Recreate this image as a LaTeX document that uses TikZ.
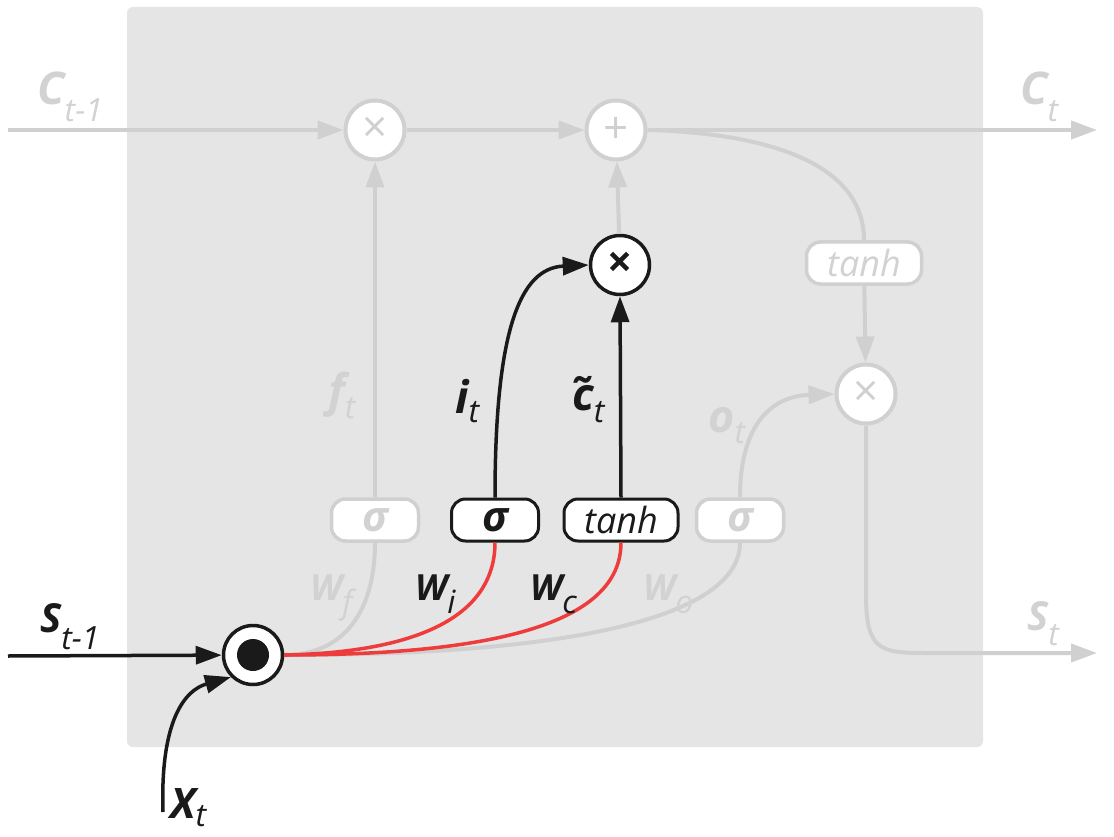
\documentclass[tikz,border=0pt]{standalone}
\usepackage{fontspec}
\setmainfont{Open Sans}
\usetikzlibrary{arrows.meta}
\definecolor{bgc}{HTML}{E5E5E5}
\definecolor{lg}{HTML}{D0D0D0}
\definecolor{lt}{HTML}{D2D2D2}
\definecolor{bk}{HTML}{1A1A1A}
\definecolor{rd}{HTML}{EE3B3B}
\newcommand\glab[4]{{\fontsize{#1}{#1}\selectfont\bfseries\itshape #2}\raisebox{-#3pt}{\fontsize{32}{32}\selectfont\itshape #4}}
\begin{document}
\begin{tikzpicture}[x=1pt,y=-1pt,
  gl/.style={draw=lg, line width=4pt},
  bl/.style={draw=bk, line width=3.5pt},
  rl/.style={draw=rd, line width=3.5pt},
  ga/.style={-{Triangle[length=26pt,width=18pt]}},
  gcirc/.style={circle, minimum size=59pt, inner sep=0pt, fill=white, draw=lg, line width=4pt, text=lg, font=\fontsize{44}{44}\selectfont},
  bcirc/.style={circle, minimum size=59pt, inner sep=0pt, fill=white, draw=bk, line width=3.5pt, text=bk, font=\fontsize{44}{44}\selectfont},
  gbox/.style={rectangle, rounded corners=14pt, minimum width=87pt, minimum height=42pt, inner sep=0pt, fill=white, draw=lg, line width=3.5pt, text=lt, font=\fontsize{36}{36}\selectfont\itshape},
  bbox/.style={rectangle, rounded corners=14pt, minimum width=87pt, minimum height=42pt, inner sep=0pt, fill=white, draw=bk, line width=3pt, text=bk, font=\fontsize{36}{36}\selectfont\itshape},
  sig/.style={font=\fontsize{42}{42}\selectfont\bfseries\itshape},
  glab/.style={anchor=base west, inner sep=0pt, text=lt},
  blab/.style={anchor=base west, inner sep=0pt, text=bk}
]
\useasboundingbox (0,0) rectangle (1114,837);
\fill[bgc, rounded corners=6pt] (127,7) rectangle (983,747);

% nodes
\node[gcirc] (mulf) at (375,130) {×};
\node[gcirc] (add) at (616,130) {+};
\node[bcirc] (muli) at (620,265) {\bfseries ×};
\node[gbox, minimum width=115pt] (tanhc) at (864,263) {tanh};
\node[gcirc] (mulo) at (866,394) {×};
\node[gbox, sig] (sf) at (375,520) {σ};
\node[bbox, sig] (si) at (495,520) {σ};
\node[bbox, minimum width=114pt] (tc) at (621,520) {tanh};
\node[gbox, sig] (so) at (740,520) {σ};
\node[bcirc] (dot) at (253,655) {};
\fill[bk] (dot.center) circle (16pt);

\coordinate (cin) at (8,130);
\coordinate (cout) at (1097,130);
\coordinate (sin) at (8,656);
\coordinate (sout) at (1097,653);
\coordinate (xin) at (163,812);
\coordinate (turn1) at (866,595);
\coordinate (turn2) at (925,653);

% gray connectors
\draw[gl,ga] (cin) -- (mulf);
\draw[gl,ga] (mulf) -- (add);
\draw[gl,ga] (add) -- (cout);
\draw[gl] (add.east) .. controls (760,133) and (864,160) .. (tanhc.north);
\draw[gl,ga] (tanhc) -- (mulo);
\draw[gl,ga] (sf) -- (mulf);
\draw[gl,ga] (muli) -- (add);
\draw[gl,ga] (so.north) .. controls (740,420) and (775,396) .. (mulo.west);
\draw[gl,ga] (mulo.south) -- (turn1) .. controls (866,650) and (880,653) .. (turn2) -- (sout);
\draw[gl] (dot.east) .. controls (345,655) and (375,610) .. (sf.south);
\draw[gl] (dot.east) .. controls (600,655) and (740,610) .. (so.south);

% red connectors
\draw[rl] (dot.east) .. controls (430,652) and (495,610) .. (si.south);
\draw[rl] (dot.east) .. controls (520,655) and (621,615) .. (tc.south);

% black connectors
\draw[bl,ga] (sin) -- (dot);
\draw[bl,ga] (xin) .. controls (160,720) and (185,690) .. (dot.south west);
\draw[bl,ga] (si.north) .. controls (495,330) and (520,268) .. (muli.west);
\draw[bl,ga] (tc.north) -- (muli.south);

% labels
\node[glab] (lc0) at (37,105) {\glab{45}{C}{17}{t-1}};
\node[glab] (lc1) at (1020,105) {\glab{45}{C}{17}{t}};
\node[glab] (lf) at (328,406) {\glab{45}{f}{12}{t}};
\node[blab] (li) at (455,413) {\glab{45}{i}{9}{t}};
\node[blab] (lct) at (572,410) {\glab{45}{c̃}{12}{t}};
\node[glab] (lo) at (708,432) {\glab{45}{o}{11}{t}};
\node[glab] (lwf) at (310,600) {\glab{36}{W}{13}{f}};
\node[blab] (lwi) at (415,600) {\glab{36}{W}{13}{i}};
\node[blab] (lwc) at (530,600) {\glab{36}{W}{13}{c}};
\node[glab] (lwo) at (643,600) {\glab{36}{W}{13}{o}};
\node[blab] (ls0) at (40,632) {\glab{40}{S}{17}{t-1}};
\node[glab] (ls1) at (1027,630) {\glab{40}{S}{15}{t}};
\node[blab] (lx) at (170,818) {\glab{42}{X}{8}{t}};
\end{tikzpicture}
\end{document}
